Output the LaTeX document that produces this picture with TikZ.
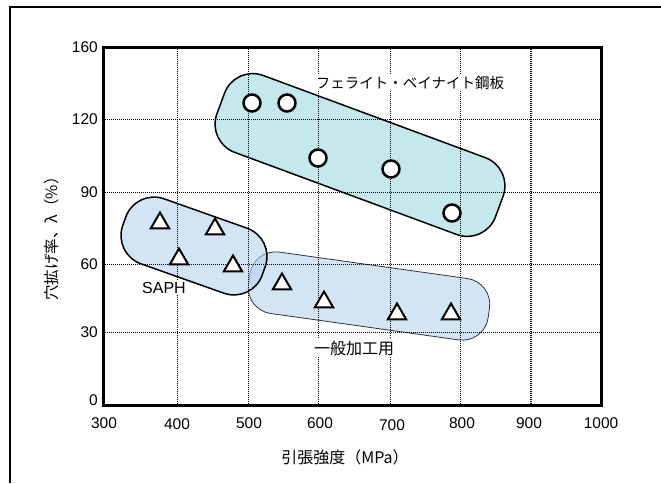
\documentclass[tikz,border=0pt]{standalone}
\usepackage{fontspec}
\setmainfont{Liberation Sans}
\newfontfamily\jpfont{Noto Sans CJK JP}
\usetikzlibrary{shapes.geometric, calc, positioning}

\definecolor{ferritefill}{RGB}{158,217,223}
\definecolor{steelfill}{RGB}{182,210,238}

\tikzset{
  gridline/.style={line width=0.8pt, dash pattern=on 1pt off 1pt},
  blob/.style={draw, rectangle, rounded corners=#1, fill opacity=0.6, inner sep=0pt},
  ring/.style={circle, draw, fill=white, line width=2.5pt, minimum size=17pt, inner sep=0pt},
  tri/.style={regular polygon, regular polygon sides=3, draw, fill=white, line width=2pt, minimum size=21pt, inner sep=0pt},
  ticklab/.style={font=\fontsize{15.5}{18}\selectfont, inner sep=0pt},
  tag/.style={fill=white, inner sep=1.5pt}
}

\begin{document}
\begin{tikzpicture}[x=1pt, y=-1pt]
            \useasboundingbox (0,0) rectangle (661,483);
            % outer frame
            \draw[line width=2pt] (10,483) -- (10,7) -- (661,7);
            % groups
            \node[blob=26, fill=steelfill, draw=black!80, line width=0.8pt, minimum width=242, minimum height=62, rotate=-8] (general) at (369,296) {};
            \node[blob=30, fill=steelfill, line width=1.5pt, minimum width=148, minimum height=69, rotate=-19.5] (saph) at (194,246) {};
            \node[blob=30, fill=ferritefill, line width=1.5pt, minimum width=297, minimum height=82, rotate=-20.3] (ferrite) at (360,155) {};
            % grid
            \foreach \gx in {177,248,318,390,460}
                \draw[gridline] (\gx,47) -- (\gx,405);
            \draw[gridline, line width=1.6pt] (531,47) -- (531,405);
            \foreach \gy in {119,192,264,332}
                \draw[gridline] (103,\gy) -- (601,\gy);
            \draw[line width=3pt] (103,47) rectangle (601,405);
            % ferrite-bainite points
            \node[ring] (c1) at (252,103) {};
            \node[ring] (c2) at (287,103) {};
            \node[ring] (c3) at (318,158) {};
            \node[ring] (c4) at (391,169) {};
            \node[ring] (c5) at (452,213) {};
            % SAPH and general points
            \node[tri] (t1) at (160,223) {};
            \node[tri] (t2) at (215,229) {};
            \node[tri] (t3) at (179,259) {};
            \node[tri] (t4) at (233,266) {};
            \node[tri] (t5) at (282,284) {};
            \node[tri] (t6) at (324,302) {};
            \node[tri] (t7) at (397,314) {};
            \node[tri] (t8) at (451,314) {};
            % group labels
            \node[tag, font=\jpfont\fontsize{14.5}{16}\selectfont] (ferritelab) at (410,83) {フェライト・ベイナイト鋼板};
            \node[tag, font=\fontsize{16}{18}\selectfont] (saphlab) at (164,288) {SAPH};
            \node[tag, font=\jpfont\fontsize{16}{18}\selectfont] (generallab) at (354,348) {一般加工用};
            % axis ticks
            \node[ticklab, anchor=east] (y160) at (98,47) {160};
            \node[ticklab, anchor=east] (y120) at (98,119) {120};
            \node[ticklab, anchor=east] (y90) at (98,192) {90};
            \node[ticklab, anchor=east] (y60) at (98,264) {60};
            \node[ticklab, anchor=east] (y30) at (98,332) {30};
            \node[ticklab, anchor=east] (y0) at (98,400) {0};
            \node[ticklab] (x300) at (104,423) {300};
            \node[ticklab] (x400) at (177,424) {400};
            \node[ticklab] (x500) at (249,423) {500};
            \node[ticklab] (x600) at (320,423) {600};
            \node[ticklab] (x700) at (392,425) {700};
            \node[ticklab] (x800) at (462,423) {800};
            \node[ticklab] (x900) at (529,423) {900};
            \node[ticklab] (x1000) at (601,423) {1000};
            % axis titles
            \node[font=\jpfont\fontsize{16}{18}\selectfont] (xtitle) at (345,457) {引張強度（MPa）};
            \node[font=\jpfont\fontsize{15.5}{18}\selectfont, rotate=90] (ytitle) at (52,235) {穴拡げ率、λ（\%）};
        \end{tikzpicture}
\end{document}
